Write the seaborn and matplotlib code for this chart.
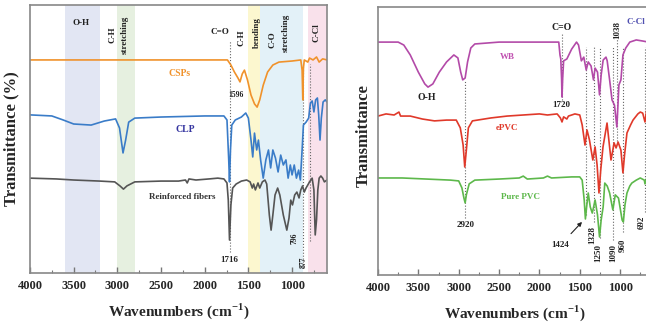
import pandas as pd
import matplotlib.pyplot as plt
import seaborn as sns
import numpy as np

sns.set_theme(style='white')
plt.rcParams['font.family'] = ['Liberation Serif', 'DejaVu Serif']
plt.rcParams['font.weight'] = 'bold'
plt.rcParams['mathtext.fontset'] = 'custom'
plt.rcParams['mathtext.rm'] = 'Liberation Serif:bold'
plt.rcParams['mathtext.bf'] = 'Liberation Serif:bold'

# ---- left panel spectra (wavenumber, transmittance) ----
csps_wn = [4000, 3000, 2000, 1740, 1700, 1660, 1620, 1596, 1570, 1545, 1510, 1470, 1430, 1400,
           1370, 1330, 1280, 1220, 1150, 1000, 900, 885, 877, 870, 860, 820, 800, 760, 720, 690, 650, 600]
csps_t = [79.5, 79.5, 79.5, 79.5, 77.6, 75.0, 72.8, 71.3, 74.3, 75.7, 72.0, 66.4, 63.1, 61.9,
          64.6, 70.1, 75.0, 77.6, 78.7, 79.1, 79.5, 75.7, 64.6, 76.5, 79.5, 78.7, 80.2, 79.5, 80.6, 78.7, 79.9, 79.5]

clp_wn = [4000, 3750, 3620, 3500, 3300, 3150, 3020, 2975, 2935, 2905, 2870, 2800, 2500, 2000, 1780,
          1745, 1725, 1716, 1705, 1690, 1650, 1580, 1530, 1500, 1470, 1450, 1430, 1405, 1385, 1360,
          1330, 1300, 1270, 1245, 1220, 1190, 1160, 1130, 1100, 1070, 1045, 1020, 1000, 975, 950,
          925, 905, 885, 870, 840, 810, 790, 770, 750, 730, 710, 695, 680, 665, 645, 620, 600]
clp_t = [59.0, 58.6, 57.1, 55.6, 55.2, 56.7, 57.5, 54.1, 44.8, 49.6, 56.3, 57.8, 58.2, 58.6, 58.6,
         57.1, 42.2, 34.0, 45.9, 55.2, 57.1, 58.2, 59.7, 57.8, 49.6, 43.3, 52.2, 45.9, 49.6, 42.2,
         35.4, 42.2, 45.9, 39.2, 45.9, 42.9, 37.7, 44.0, 40.3, 42.2, 35.4, 40.3, 36.6, 40.3, 35.4,
         38.4, 34.7, 45.9, 55.2, 56.3, 57.8, 63.4, 64.2, 60.1, 64.6, 65.3, 59.0, 49.6, 57.8, 63.8, 64.6, 63.8]

fib_wn = [4000, 3700, 3500, 3200, 3030, 2970, 2930, 2890, 2800, 2500, 2300, 2220, 2200, 2180, 2100,
          1950, 1850, 1780, 1745, 1730, 1716, 1700, 1680, 1640, 1580, 1520, 1480, 1455, 1440, 1420,
          1390, 1370, 1340, 1310, 1290, 1260, 1240, 1220, 1195, 1165, 1140, 1100, 1060, 1035, 1015,
          995, 970, 945, 920, 900, 880, 860, 840, 800, 770, 750, 735, 720, 705, 690, 670, 650, 630, 600]
fib_t = [35.4, 35.1, 34.7, 34.3, 34.0, 32.5, 31.3, 32.5, 34.0, 34.3, 34.3, 34.7, 33.6, 35.1, 34.7,
         35.1, 35.4, 35.1, 33.6, 27.2, 12.3, 25.4, 31.7, 33.2, 34.3, 34.7, 34.0, 31.7, 33.2, 31.0,
         33.6, 31.7, 34.0, 34.7, 33.2, 21.6, 16.0, 21.6, 29.1, 31.7, 29.1, 21.6, 16.0, 20.5, 27.2,
         25.4, 29.1, 30.2, 28.0, 31.0, 32.5, 30.2, 31.7, 34.0, 35.4, 31.0, 14.2, 19.8, 31.0, 35.4, 36.2, 35.4, 34.0, 34.7]

# ---- right panel spectra ----
wb_wn = [4000, 3750, 3680, 3600, 3500, 3420, 3380, 3320, 3240, 3150, 3060, 3010, 2975, 2950, 2920,
         2890, 2850, 2800, 2500, 2000, 1760, 1745, 1735, 1725, 1720, 1712, 1700, 1660, 1600, 1540,
         1515, 1480, 1450, 1420, 1395, 1360, 1330, 1310, 1280, 1255, 1235, 1210, 1175, 1160, 1130,
         1100, 1070, 1040, 1015, 990, 965, 930, 880, 800, 720, 650, 600]
wb_t = [86.9, 86.9, 85.8, 82.1, 75.7, 71.3, 70.1, 71.3, 75.7, 79.5, 82.1, 81.0, 75.7, 72.8, 73.5,
        79.5, 84.7, 86.2, 86.9, 86.9, 86.9, 82.1, 80.6, 73.1, 66.4, 73.1, 79.9, 80.6, 84.3, 86.9,
        85.8, 79.9, 81.3, 76.5, 79.5, 78.0, 72.8, 77.2, 75.7, 67.2, 74.6, 80.2, 81.3, 79.9, 72.8,
        65.3, 63.4, 55.2, 70.9, 72.8, 82.1, 84.7, 86.9, 87.7, 87.3, 86.9, 86.9]

epvc_wn = [4000, 3900, 3800, 3740, 3720, 3600, 3450, 3300, 3150, 3030, 2980, 2945, 2925, 2905, 2880,
           2830, 2600, 2400, 2200, 2000, 1900, 1780, 1740, 1720, 1700, 1660, 1640, 1560, 1500, 1470,
           1435, 1410, 1380, 1338, 1310, 1285, 1262, 1240, 1212, 1162, 1113, 1090, 1075, 1050, 1025,
           990, 965, 945, 915, 870, 840, 780, 750, 720, 692, 670, 650, 600]
epvc_t = [59.3, 60.1, 59.7, 60.8, 59.3, 59.3, 58.2, 57.5, 57.8, 57.8, 54.9, 48.5, 40.3, 46.6, 54.9,
          57.5, 58.6, 59.3, 59.7, 60.1, 59.7, 60.1, 58.6, 57.1, 59.0, 58.2, 59.3, 60.1, 59.7, 56.0,
          48.5, 54.1, 50.4, 42.9, 47.8, 41.0, 30.6, 39.2, 47.8, 56.7, 42.9, 46.6, 49.3, 47.4, 49.6,
          46.6, 38.1, 44.8, 53.0, 56.0, 57.8, 60.1, 60.8, 60.4, 57.1, 61.6, 60.8, 60.8]

pvc_wn = [4000, 3700, 3400, 3100, 3000, 2960, 2935, 2920, 2905, 2870, 2800, 2500, 2250, 2200, 2150,
          1950, 1900, 1850, 1600, 1500, 1470, 1445, 1430, 1415, 1395, 1370, 1345, 1328, 1310, 1280,
          1255, 1235, 1210, 1190, 1160, 1130, 1090, 1060, 1020, 975, 960, 940, 915, 880, 855, 800,
          750, 700, 692, 670, 600]
pvc_t = [36.2, 36.2, 35.8, 35.4, 35.1, 32.5, 28.7, 26.9, 29.9, 34.0, 35.4, 35.8, 36.2, 36.9, 35.8,
         36.2, 36.9, 36.2, 36.6, 36.6, 35.4, 28.0, 20.9, 25.4, 30.6, 25.4, 23.1, 25.4, 28.0, 22.4,
         14.2, 20.5, 25.4, 34.3, 33.2, 30.6, 24.3, 29.9, 28.7, 20.5, 19.8, 26.1, 30.6, 33.2, 34.3, 35.4,
         36.2, 35.4, 34.0, 36.2, 36.2]

# shaded band regions in the left panel
band_lo = [3200, 2800, 1370, 870, 600]
band_hi = [3600, 3000, 1500, 1370, 820]
band_col = ['#e2e6f3', '#e6f0e0', '#fcf7cf', '#e3f1f8', '#f9e1eb']

fig = plt.figure(figsize=(6.46, 3.31), dpi=100)
ax1 = fig.add_axes([0.0464, 0.1752, 0.4598, 0.8097])
ax2 = fig.add_axes([0.5851, 0.1692, 0.4248, 0.8097])

for lo, hi, c in zip(band_lo, band_hi, band_col):
    ax1.axvspan(lo, hi, color=c, lw=0, zorder=0)

def draw(ax, wn, t, color):
    d = pd.DataFrame({'wn': wn, 't': t})
    sns.lineplot(data=d, x='wn', y='t', ax=ax, color=color, lw=1.2, estimator=None, sort=False)

draw(ax1, csps_wn, csps_t, '#f0922b')
draw(ax1, clp_wn, clp_t, '#3a7cc8')
draw(ax1, fib_wn, fib_t, '#555555')
draw(ax2, wb_wn, wb_t, '#b34aa8')
draw(ax2, epvc_wn, epvc_t, '#e0392a')
draw(ax2, pvc_wn, pvc_t, '#5db84b')

# dotted guide lines
dot = dict(colors='#666666', linestyles=':', lw=0.8, zorder=1)
ax1.vlines(1716, 7.8, 87, **dot)
ax1.vlines(877, 2, 78, **dot)
ax1.vlines(796, 12, 78, **dot)
ax2.vlines(2920, 21.3, 72.8, **dot)
ax2.vlines(1720, 65.3, 90.3, **dot)
ax2.vlines([1424, 1328, 1250, 1090, 960], [22.4, 19.8, 13.8, 13, 16], 85, **dot)
ax2.vlines(1038, 50, 88, **dot)
ax2.vlines(692, 23.5, 85, **dot)

fs = 6.5
def txt(ax, x, y, s, rot=0, color='#222222', size=fs):
    ax.text(x, y, s, rotation=rot, color=color, fontsize=size, fontweight='bold',
            ha='center', va='center')

txt(ax1, 3420, 93.3, 'O-H')
txt(ax1, 3061, 88.8, 'C-H', 90)
txt(ax1, 2912, 88.8, 'stretching', 90)
txt(ax1, 1830, 89.9, 'C=O')
txt(ax1, 1583, 87.7, 'C-H', 90)
txt(ax1, 1400, 89.6, 'bending', 90)
txt(ax1, 1228, 86.9, 'C-O', 90)
txt(ax1, 1068, 89.6, 'stretching', 90)
txt(ax1, 724, 89.6, 'C-Cl', 90)
txt(ax1, 2282, 74.6, 'CSPs', color='#f0922b', size=7)
txt(ax1, 2225, 53.4, 'CLP', color='#3535a0', size=7)
txt(ax1, 2259, 28.4, 'Reinforced fibers', color='#333333')
txt(ax1, 1640, 66.4, '1596', size=5.5)
txt(ax1, 1716, 4.9, '1716')
txt(ax1, 976, 13.1, '796', 90, size=5.5)
txt(ax1, 862, 4.1, '877', 90, size=5.5)

txt(ax2, 3393, 66.4, 'O-H', size=7)
txt(ax2, 2400, 81.3, 'WB', color='#c050b0')
txt(ax2, 1720, 92.5, 'C=O', size=7)
txt(ax2, 1730, 63.4, '1720')
txt(ax2, 1038, 91.4, '1038', 90)
ax2.text(925, 94.4, 'C-Cl', color='#5050b0', fontsize=6.5, fontweight='bold', ha='left', va='center')
txt(ax2, 2400, 54.9, 'ePVC', color='#e0392a')
txt(ax2, 2240, 29.1, 'Pure PVC', color='#5db84b')
txt(ax2, 2920, 18.7, '2920')
txt(ax2, 1340, 14.9, '1328', 90)
txt(ax2, 1265, 8.2, '1250', 90)
txt(ax2, 1090, 8.2, '1090', 90)
txt(ax2, 964, 11.2, '960', 90)
txt(ax2, 735, 19.8, '692', 90)
ax2.annotate('1424', xy=(1472, 19.8), xytext=(1740, 11.2), fontsize=fs, fontweight='bold',
             ha='center', va='center', color='#222222',
             arrowprops=dict(arrowstyle='-|>', color='#222222', lw=0.8, mutation_scale=6,
                             shrinkA=4, shrinkB=0))

for ax, lab in [(ax1, 'Transmittance (%)'), (ax2, 'Transmittance')]:
    ax.set_xlim(4000, 600)
    ax.set_ylim(0, 100)
    ax.set_xticks([4000, 3500, 3000, 2500, 2000, 1500, 1000])
    ax.set_xticks(np.arange(3750, 600, -500), minor=True)
    ax.set_xticklabels(['4000', '3500', '3000', '2500', '2000', '1500', '1000'],
                       fontsize=9, fontweight='bold')
    ax.set_yticks([])
    ax.tick_params(axis='x', which='major', direction='in', length=4, width=1, color='#777777',
                   pad=5, bottom=True)
    ax.tick_params(axis='x', which='minor', direction='in', length=2, width=0.8, color='#777777',
                   bottom=True)
    for s in ax.spines.values():
        s.set_color('#888888')
        s.set_linewidth(1.2)
    ax.set_xlabel(r'Wavenumbers (cm$^{\mathbf{-1}}$)', fontsize=11, fontweight='bold', labelpad=7)
    ax.set_ylabel(lab, fontsize=12, fontweight='bold')

ax1.yaxis.set_label_coords(-0.037, 0.5)
ax2.yaxis.set_label_coords(-0.022, 0.52)

fig.savefig('out.png', dpi=100, facecolor='white')
